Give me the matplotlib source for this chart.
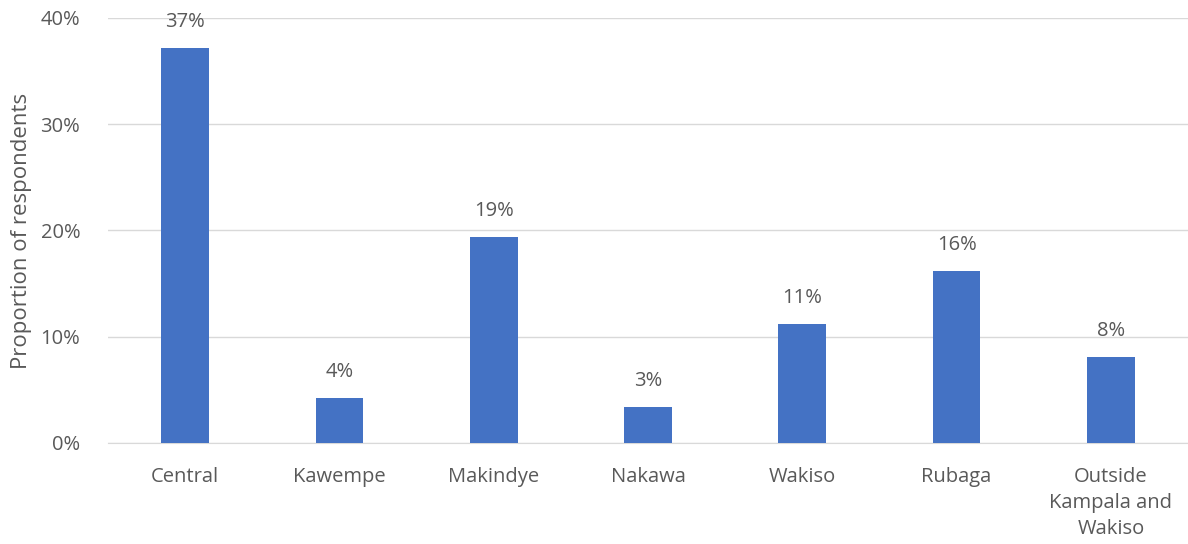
import matplotlib.pyplot as plt
import numpy as np

plt.rcParams['font.family'] = ['Open Sans', 'DejaVu Sans']

# Data
categories = ['Central', 'Kawempe', 'Makindye', 'Nakawa', 'Wakiso', 'Rubaga',
              'Outside\nKampala and\nWakiso']
values = [37.2, 4.2, 19.4, 3.4, 11.2, 16.2, 8.1]
labels = ['37%', '4%', '19%', '3%', '11%', '16%', '8%']

text_color = '#595959'
bar_color = '#4472C4'

fig = plt.figure(figsize=(11.88, 5.44), dpi=100)
ax = fig.add_axes([0.0909, 0.1857, 0.9091, 0.7813])

x = np.arange(len(categories))
bars = ax.bar(x, values, width=0.31, color=bar_color, zorder=3)

for b, lab in zip(bars, labels):
    ax.text(b.get_x() + b.get_width() / 2, b.get_height() + 1.5, lab,
            ha='center', va='bottom', fontsize=14.5, color=text_color)

ax.set_xlim(-0.5, len(categories) - 0.5)
ax.set_ylim(0, 40)
ax.set_yticks([0, 10, 20, 30, 40])
ax.set_yticklabels(['0%', '10%', '20%', '30%', '40%'])
ax.set_xticks(x)
ax.set_xticklabels(categories, linespacing=1.4)

ax.grid(axis='y', color='#D9D9D9', linewidth=1, zorder=0)
for s in ['top', 'right', 'left']:
    ax.spines[s].set_visible(False)
ax.spines['bottom'].set_color('#D9D9D9')
ax.tick_params(axis='both', length=0, labelsize=14.5, colors=text_color)
ax.tick_params(axis='x', pad=17)
ax.tick_params(axis='y', pad=20)

ax.set_ylabel('Proportion of respondents', fontsize=16, color=text_color, labelpad=6)

fig.savefig('out.png', dpi=100)
